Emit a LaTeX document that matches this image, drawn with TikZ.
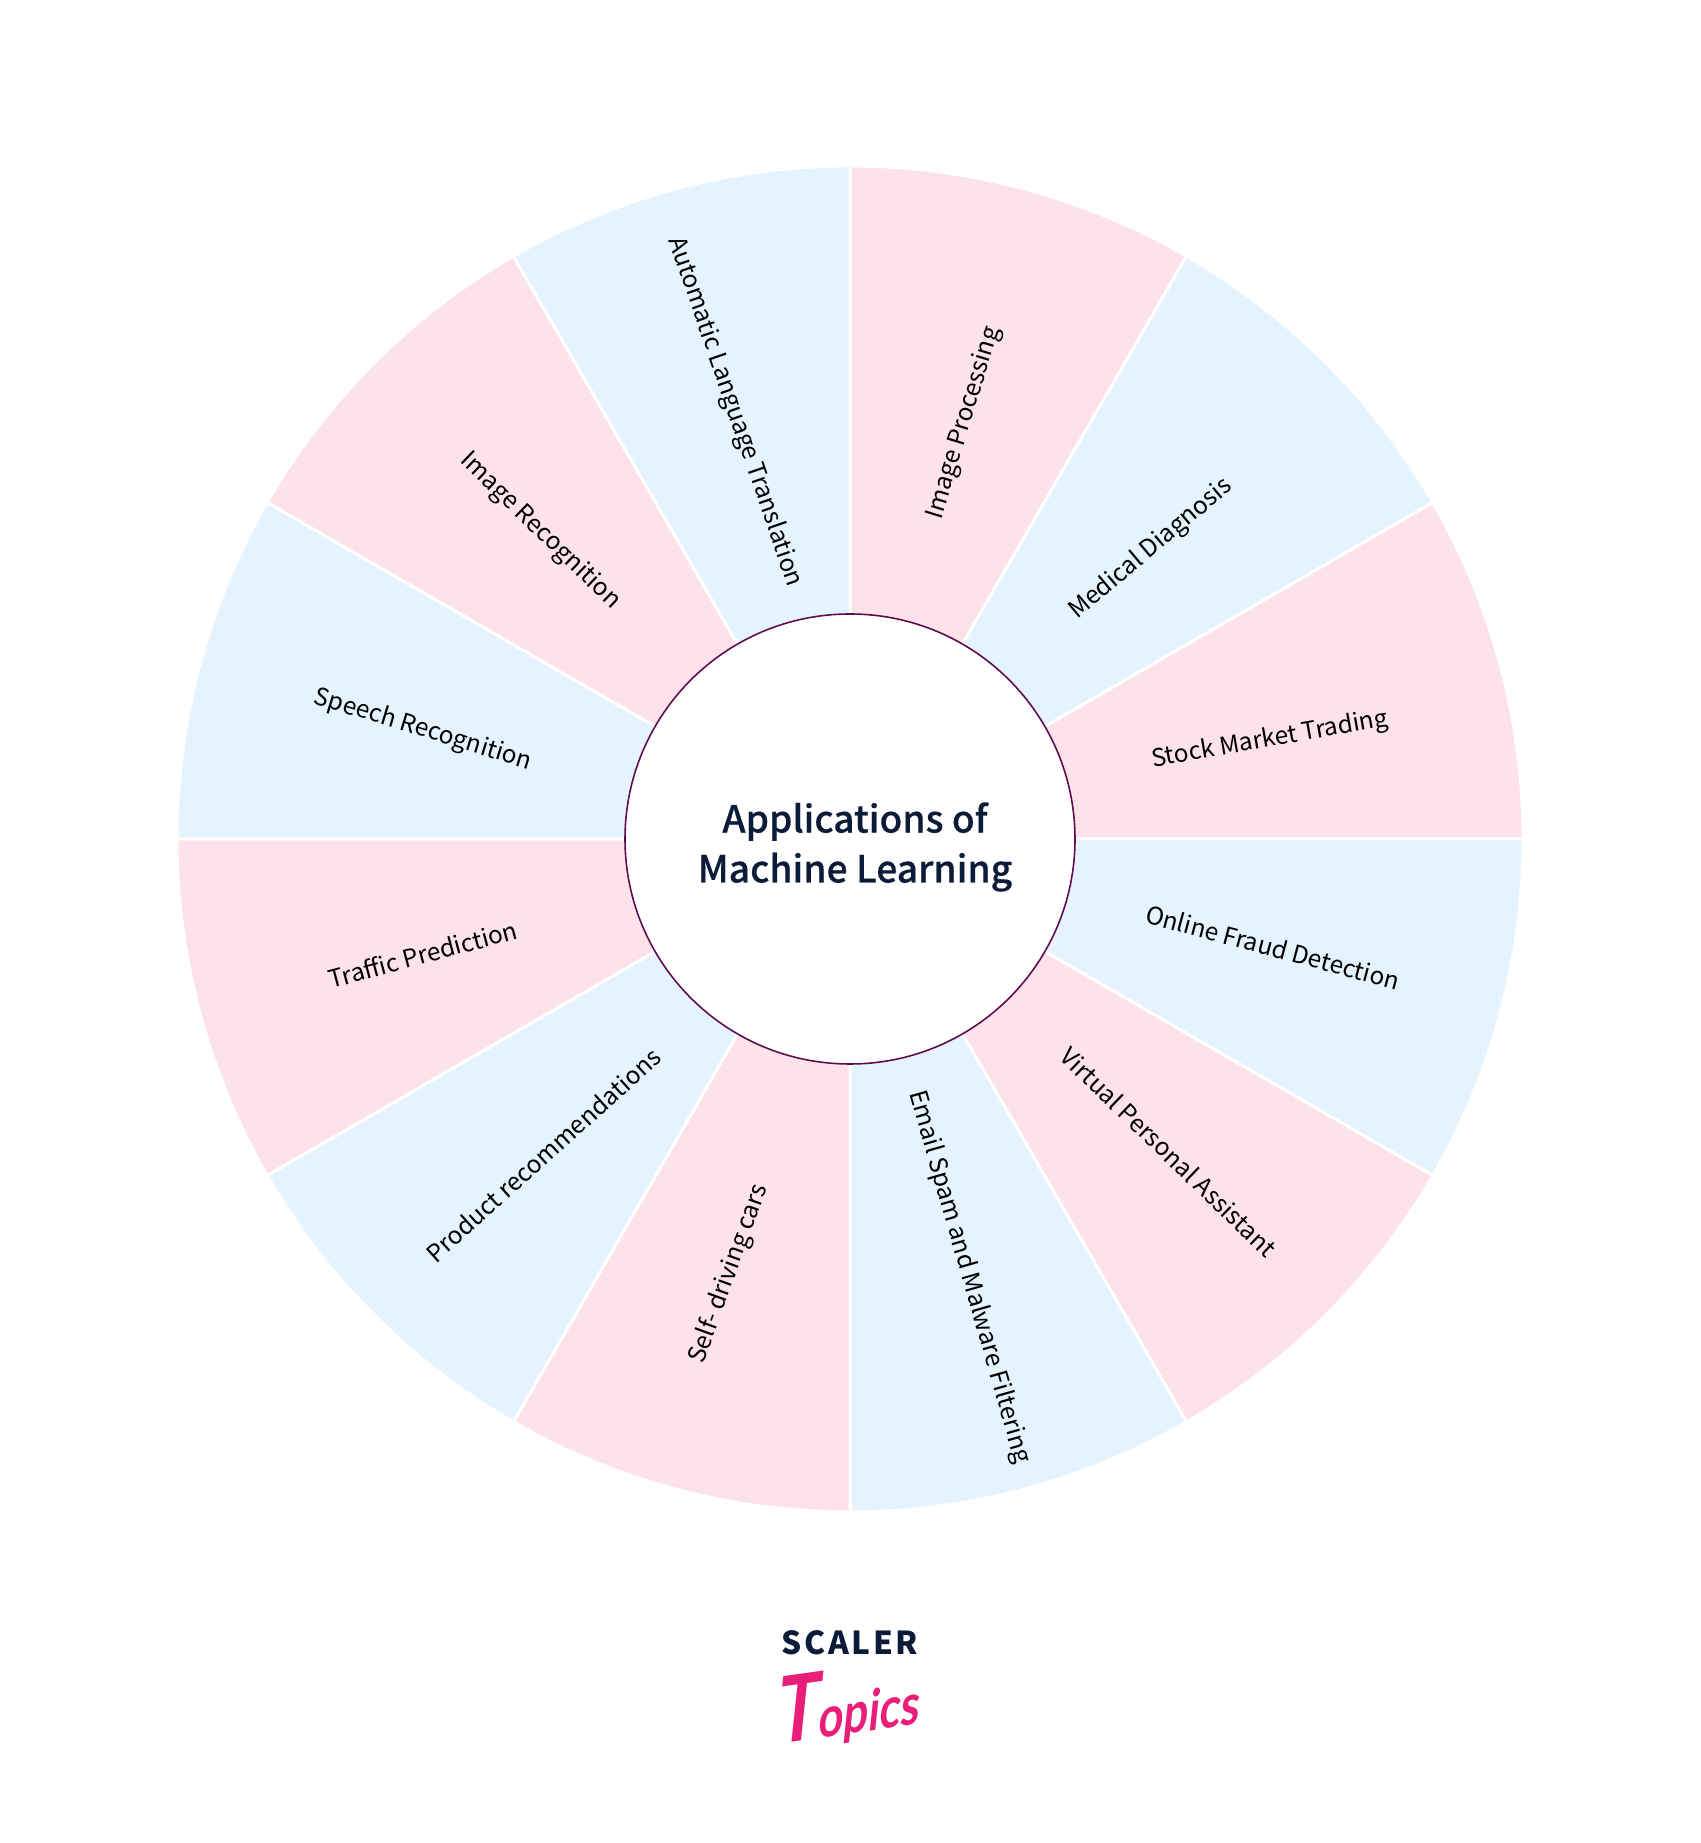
\documentclass[tikz,border=0pt]{standalone}
\usepackage{fontspec}
\setmainfont{Noto Sans CJK SC}
\newfontfamily\titlefont[FakeBold=0.4]{Noto Sans CJK SC Medium}
\newfontfamily\topicsfont{Lato}
\usepackage{tikz}
\usetikzlibrary{calc}

\definecolor{wedgepink}{HTML}{FDE3E9}
\definecolor{wedgeblue}{HTML}{E4F3FE}
\definecolor{ringpurple}{HTML}{5E0B4F}
\definecolor{titlenavy}{HTML}{0B1B38}
\definecolor{topicspink}{HTML}{E91E78}

\tikzset{
  wedge/.style={draw=white,line width=0.85pt},
  wedgelabel/.style={font=\fontsize{6.95pt}{9pt}\selectfont,text=black,inner sep=0pt},
}

\begin{document}
\begin{tikzpicture}

\useasboundingbox (-8.50,-10.04) rectangle (8.50,8.39);

\coordinate (c) at (0,0);

\foreach \a/\col in {60/wedgepink,30/wedgeblue,0/wedgepink,-30/wedgeblue,-60/wedgepink,-90/wedgeblue,
   -120/wedgepink,-150/wedgeblue,180/wedgepink,150/wedgeblue,120/wedgepink,90/wedgeblue}{
  \fill[\col,wedge] (c) -- (\a:6.73) arc (\a:\a+30:6.73) -- cycle;
}

\foreach \x/\y/\r/\txt [count=\i] in {
   1.14/ 4.16/ 73/Image Processing,
   3.01/ 2.90/ 40/Medical Diagnosis,
   4.20/ 0.99/ 10/Stock Market Trading,
   4.23/-1.08/-15/Online Fraud Detection,
   3.19/-3.13/-44/Virtual Personal Assistant,
   1.19/-4.38/-74/Email Spam and Malware Filtering,
  -1.21/-4.35/ 70/Self- driving cars,
  -3.07/-3.16/ 42/Product recommendations,
  -4.27/-1.15/ 15/Traffic Prediction,
  -4.27/ 1.09/-17/Speech Recognition,
  -3.10/ 3.08/-44/Image Recognition,
  -1.15/ 4.27/-71/Automatic Language Translation}{
  \node[wedgelabel,rotate=\r] (lbl\i) at (\x,\y) {\txt};
}

\node[circle,draw=ringpurple,fill=white,line width=0.45pt,minimum size=4.50cm,inner sep=0pt] (hub) at (c) {};
\node[align=center,text=titlenavy,font=\fontsize{10.6pt}{14.2pt}\selectfont\titlefont] (title) at (0.05,-0.08)
   {Applications of\\Machine Learning};

\node[text=titlenavy,font=\fontsize{9pt}{11pt}\selectfont\bfseries,inner sep=0pt] (scaler) at (0.0,-8.04)
   {S\hspace{0.08em}C\hspace{0.08em}A\hspace{0.08em}L\hspace{0.08em}E\hspace{0.08em}R};
\node[text=topicspink,font=\topicsfont\bfseries,inner sep=0pt,rotate=8,xslant=0.25,xscale=0.78,transform shape] (topics) at (0.0,-8.66)
   {\fontsize{26pt}{26pt}\selectfont T\fontsize{16pt}{16pt}\selectfont opics};

\end{tikzpicture}
\end{document}
